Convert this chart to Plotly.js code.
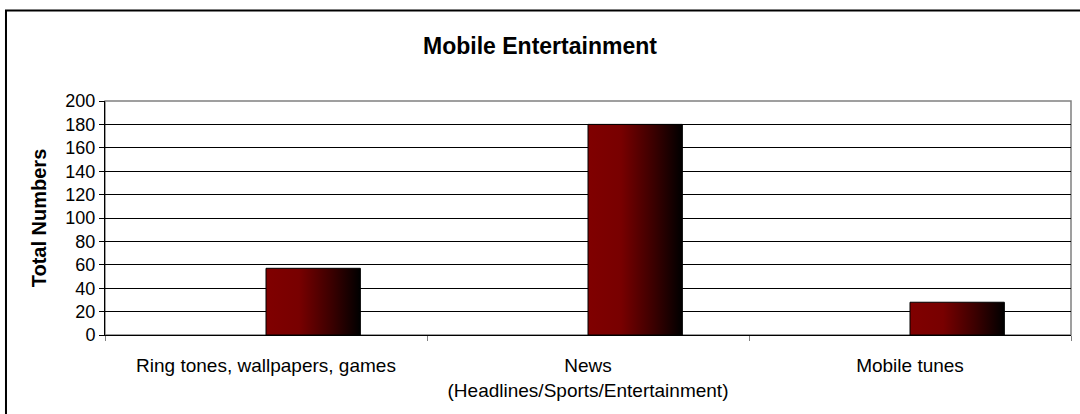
<!DOCTYPE html>
<html>
<head>
<meta charset="utf-8">
<script src="https://cdn.plot.ly/plotly-3.0.1.min.js"></script>
<style>
  html, body { margin: 0; padding: 0; background: #fff; }
  #chart { width: 1080px; height: 414px; }
</style>
</head>
<body>
<div id="chart"></div>
<script>
const categories = ["Ring tones, wallpapers, games", "News<br>(Headlines/Sports/Entertainment)", "Mobile tunes"];
const totals = [57, 180, 28];
const yTickValues = [0, 20, 40, 60, 80, 100, 120, 140, 160, 180, 200];

const FONT = "Liberation Sans, Arial, sans-serif";

const trace = {
  type: "bar",
  x: categories,
  y: totals,
  offset: 0,
  width: 0.293,
  marker: { color: "#800000", line: { color: "#000000", width: 1 } },
  hoverinfo: "x+y"
};

const layout = {
  width: 1080,
  height: 414,
  margin: { l: 105, r: 9, t: 101, b: 79 },
  paper_bgcolor: "#ffffff",
  plot_bgcolor: "#ffffff",
  showlegend: false,
  title: {
    text: "<b>Mobile Entertainment</b>",
    font: { family: FONT, size: 23, color: "#000" },
    x: 0.5, xanchor: "center",
    y: 0.89, yanchor: "middle"
  },
  xaxis: {
    type: "category",
    tickson: "boundaries",
    ticks: "outside",
    ticklen: 5,
    tickcolor: "#808080",
    ticklabelstandoff: 13,
    showline: true,
    linecolor: "#000",
    linewidth: 1,
    showgrid: false,
    tickfont: { family: FONT, size: 19, color: "#000" },
    fixedrange: true
  },
  yaxis: {
    range: [0, 200],
    tickmode: "array",
    tickvals: yTickValues,
    ticktext: yTickValues.map(String),
    ticks: "outside",
    ticklen: 5,
    tickcolor: "#000",
    showline: true,
    linecolor: "#000",
    linewidth: 1,
    showgrid: true,
    gridcolor: "#000",
    gridwidth: 1,
    zeroline: false,
    tickfont: { family: FONT, size: 18, color: "#000" },
    title: {
      text: "<b>Total Numbers</b>",
      font: { family: FONT, size: 20, color: "#000" },
      standoff: 13
    },
    fixedrange: true
  },
  shapes: [
    {
      type: "rect", xref: "paper", yref: "paper",
      x0: 0, x1: 1, y0: 0, y1: 1,
      line: { color: "#808080", width: 1.5 },
      layer: "below"
    },
    {
      type: "rect", xref: "paper", yref: "paper",
      x0: -0.1025, x1: 1.2, y0: -1, y1: 1.387,
      line: { color: "#000", width: 2 },
      layer: "above"
    }
  ]
};

Plotly.newPlot("chart", [trace], layout, { displayModeBar: false, staticPlot: true }).then(function (gd) {
  const svg = gd.querySelector("svg.main-svg");
  const ns = "http://www.w3.org/2000/svg";
  let defs = svg.querySelector("defs");
  if (!defs) { defs = document.createElementNS(ns, "defs"); svg.insertBefore(defs, svg.firstChild); }
  const grad = document.createElementNS(ns, "linearGradient");
  grad.setAttribute("id", "barGrad");
  grad.setAttribute("x1", "0"); grad.setAttribute("y1", "0");
  grad.setAttribute("x2", "1"); grad.setAttribute("y2", "0");
  [["0", "#800000"], ["0.35", "#780000"], ["0.7", "#3a0000"], ["1", "#000000"]].forEach(function (s) {
    const st = document.createElementNS(ns, "stop");
    st.setAttribute("offset", s[0]);
    st.setAttribute("stop-color", s[1]);
    grad.appendChild(st);
  });
  defs.appendChild(grad);
  gd.querySelectorAll(".bars .point path").forEach(function (p) {
    p.style.fill = "url(#barGrad)";
  });
});
</script>
</body>
</html>
